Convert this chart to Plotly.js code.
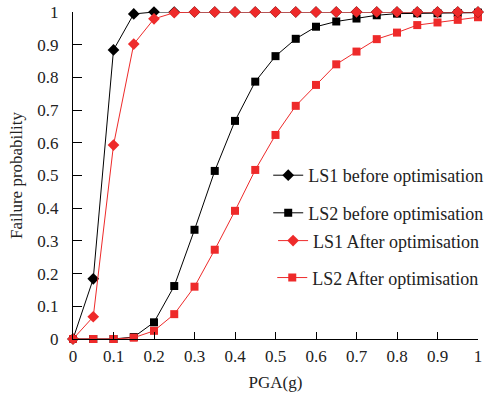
<!DOCTYPE html>
<html><head><meta charset="utf-8">
<script src="https://cdn.plot.ly/plotly-3.0.1.min.js"></script>
<style>html,body{margin:0;padding:0;background:#fff}#c{width:486px;height:394px}</style>
</head><body><div id="c"></div>
<script>
const pga = [0,0.05,0.1,0.15,0.2,0.25,0.3,0.35,0.4,0.45,0.5,0.55,0.6,0.65,0.7,0.75,0.8,0.85,0.9,0.95,1];
const ls1Before = [0,0.184,0.884,0.994,1,1,1,1,1,1,1,1,1,1,1,1,1,1,1,1,1];
const ls2Before = [0,0,0,0.006,0.051,0.162,0.334,0.514,0.667,0.787,0.865,0.918,0.955,0.971,0.98,0.99,0.995,0.996,0.996,0.997,0.998];
const ls1After = [0,0.068,0.593,0.902,0.979,0.998,1,1,1,1,1,1,1,1,1,1,1,1,1,1,1];
const ls2After = [0,0,0,0.004,0.025,0.076,0.16,0.273,0.392,0.517,0.624,0.713,0.777,0.84,0.879,0.917,0.937,0.96,0.968,0.976,0.984];
const names = ["LS1 before optimisation","LS2 before optimisation","LS1 After optimisation","LS2 After optimisation"];
const yTickVals = [0,0.1,0.2,0.3,0.4,0.5,0.6,0.7,0.8,0.9,1];
const yTickText = ["0","0.1","0.2","0.3","0.4","0.5","0.6","0.7","0.8","0.9","1"];
const xTickVals = [0,0.1,0.2,0.3,0.4,0.5,0.6,0.7,0.8,0.9,1];
const xTickText = ["0","0.1","0.2","0.3","0.4","0.5","0.6","0.7","0.8","0.9","1"];

const RED = "#ee2a2a", BLK = "#000000";
const FONT = "Liberation Serif, Times New Roman, serif";
function tr(y, name, color, symbol, size, leg){
  return {x: pga, y: y, name: name, type: "scatter", mode: "lines+markers", cliponaxis: false,
    line: {color: color, width: 1}, marker: {color: color, symbol: symbol, size: size},
    legend: leg};
}
const data = [
  tr(ls2Before, names[1], BLK, "square", 8, "legend2"),
  tr(ls2After, names[3], RED, "square", 8, "legend4"),
  tr(ls1Before, names[0], BLK, "diamond", 9, "legend"),
  tr(ls1After, names[2], RED, "diamond", 9, "legend3")
];
function leg(y, x){
  return {x: x, y: y, xref: "paper", yref: "paper", xanchor: "left", yanchor: "middle",
    bgcolor: "rgba(0,0,0,0)", font: {family: FONT, size: 18, color: "#222"}, itemwidth: 30, tracegroupgap: 0};
}
const layout = {
  width: 486, height: 394,
  margin: {l: 73, r: 8, t: 12, b: 55, autoexpand: false},
  paper_bgcolor: "#fff", plot_bgcolor: "#fff",
  font: {family: FONT, size: 17, color: "#222"},
  showlegend: true,
  legend: leg(0.50, 0.482),
  legend2: leg(0.385, 0.482),
  legend3: leg(0.30, 0.494),
  legend4: leg(0.187, 0.492),
  xaxis: {range: [0, 1], tickvals: xTickVals, ticktext: xTickText, ticks: "inside", ticklen: 7,
    tickcolor: "#000", showline: true, linecolor: "#000", linewidth: 1, showgrid: false, zeroline: false,
    tickfont: {family: FONT, size: 17, color: "#222"}, ticklabelstandoff: 2,
    title: {text: "PGA(g)", font: {family: FONT, size: 17, color: "#222"}, standoff: 10}},
  yaxis: {range: [0, 1], tickvals: yTickVals, ticktext: yTickText, ticks: "inside", ticklen: 9,
    tickcolor: "#000", showline: true, linecolor: "#000", linewidth: 1, showgrid: false, zeroline: false,
    tickfont: {family: FONT, size: 17, color: "#222"}, ticklabelstandoff: 10,
    title: {text: "Failure probability", font: {family: FONT, size: 17, color: "#222"}, standoff: 10}}
};
Plotly.newPlot("c", data, layout, {displayModeBar: false, staticPlot: true});
</script></body></html>
